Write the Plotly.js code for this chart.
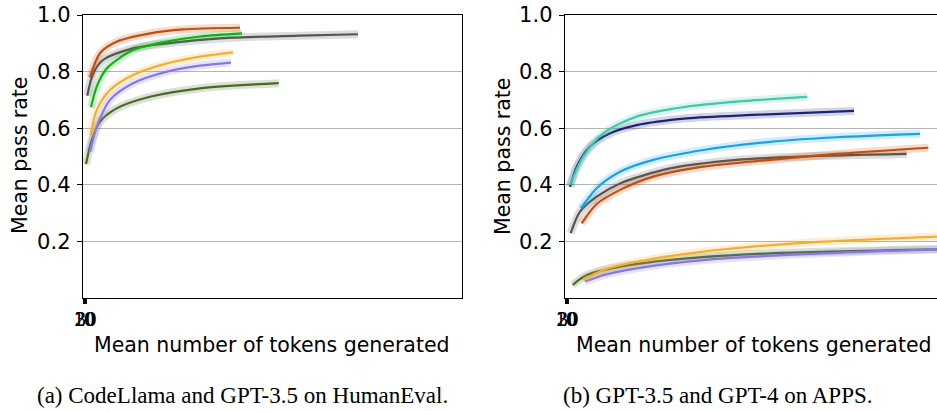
<!DOCTYPE html>
<html><head><meta charset="utf-8">
<script src="https://cdn.plot.ly/plotly-3.0.1.min.js"></script>
<style>html,body{margin:0;padding:0;background:#fff}#chart{width:937px;height:411px}</style>
</head><body><div id="chart"></div>
<script>
// ---- Panel (a): CodeLlama and GPT-3.5 on HumanEval ----
const a_red_x = [70,170,340,670,1000,1570];
const a_red_y = [0.780,0.865,0.906,0.935,0.949,0.955];
const a_gray_x = [43,103,200,500,1000,1500,2170,2750];
const a_gray_y = [0.715,0.794,0.841,0.882,0.906,0.920,0.927,0.932];
const a_green_x = [80,137,237,500,840,1170,1590];
const a_green_y = [0.674,0.747,0.811,0.876,0.906,0.924,0.935];
const a_yellow_x = [77,137,270,500,840,1170,1500];
const a_yellow_y = [0.576,0.664,0.735,0.788,0.829,0.853,0.868];
const a_purple_x = [70,137,270,500,840,1170,1480];
const a_purple_y = [0.517,0.605,0.700,0.759,0.800,0.821,0.832];
const a_olive_x = [30,87,170,337,670,1170,1957];
const a_olive_y = [0.473,0.558,0.623,0.670,0.711,0.741,0.759];

// ---- Panel (b): GPT-3.5 and GPT-4 on APPS ----
const b_teal_x = [50,183,383,717,1217,1717,2423];
const b_teal_y = [0.400,0.500,0.582,0.641,0.676,0.694,0.711];
const b_navy_x = [50,117,250,450,717,1217,1880,2890];
const b_navy_y = [0.393,0.464,0.535,0.582,0.611,0.635,0.647,0.661];
const b_blue_x = [160,317,550,883,1383,2050,2717,3550];
const b_blue_y = [0.317,0.388,0.446,0.488,0.523,0.552,0.568,0.580];
const b_gray_x = [57,150,317,550,1050,1717,2383,3417];
const b_gray_y = [0.229,0.305,0.358,0.405,0.458,0.488,0.500,0.509];
const b_red_x = [167,317,550,883,1383,2050,2717,3633];
const b_red_y = [0.264,0.332,0.382,0.429,0.464,0.488,0.509,0.531];
const b_yellow_x = [183,383,717,1383,2383,3720];
const b_yellow_y = [0.064,0.099,0.128,0.164,0.195,0.217];
const b_olive_x = [77,217,550,1217,2050,3720];
const b_olive_y = [0.046,0.081,0.111,0.140,0.158,0.172];
const b_purple_x = [200,383,717,1383,2383,3720];
const b_purple_y = [0.058,0.081,0.105,0.134,0.155,0.172];

const yTicks = [0.2,0.4,0.6,0.8,1.0];
const xTicks = [10,20,30];
const xTickText = ['10','20','30'];

const C = {red:'#c44e0c', gray:'#555555', green:'#12b012', yellow:'#f2b032',
           purple:'#8878e6', olive:'#4a6a28', teal:'#44c8aa', navy:'#1c2378', blue:'#1aa2e6'};

const traces = [];
function add(x, y, color, xa, ya){
  traces.push({x:x, y:y, xaxis:xa, yaxis:ya, mode:'lines', type:'scatter',
    line:{color:color, width:8, shape:'spline', smoothing:0.8}, opacity:0.2, hoverinfo:'skip', showlegend:false});
  traces.push({x:x, y:y, xaxis:xa, yaxis:ya, mode:'lines', type:'scatter',
    line:{color:color, width:2.2, shape:'spline', smoothing:0.8}, showlegend:false});
}
add(a_olive_x, a_olive_y, C.olive, 'x', 'y');
add(a_purple_x, a_purple_y, C.purple, 'x', 'y');
add(a_yellow_x, a_yellow_y, C.yellow, 'x', 'y');
add(a_gray_x, a_gray_y, C.gray, 'x', 'y');
add(a_green_x, a_green_y, C.green, 'x', 'y');
add(a_red_x, a_red_y, C.red, 'x', 'y');

add(b_olive_x, b_olive_y, C.olive, 'x2', 'y2');
add(b_purple_x, b_purple_y, C.purple, 'x2', 'y2');
add(b_yellow_x, b_yellow_y, C.yellow, 'x2', 'y2');
add(b_gray_x, b_gray_y, C.gray, 'x2', 'y2');
add(b_red_x, b_red_y, C.red, 'x2', 'y2');
add(b_blue_x, b_blue_y, C.blue, 'x2', 'y2');
add(b_navy_x, b_navy_y, C.navy, 'x2', 'y2');
add(b_teal_x, b_teal_y, C.teal, 'x2', 'y2');

const W = 937, H = 411;
const tickFont = {family:'DejaVu Sans', size:21, color:'#000'};
const xTickFont = {family:'Liberation Serif', size:21, color:'#000'};
function yax(anchor, mirror){
  return {anchor:anchor, domain:[1-298/H, 1-15/H], range:[0,1], tickmode:'array', tickvals:yTicks,
    tickformat:'.1f', ticks:'outside', ticklen:5, tickwidth:1, tickcolor:'#000', tickfont:tickFont,
    ticklabelstandoff:2,
    showgrid:true, gridcolor:'#b4b4b4', gridwidth:1, zeroline:false,
    showline:true, linecolor:'#000', linewidth:1.3, mirror:mirror, fixedrange:true};
}
function xax(anchor, dom, rng){
  return {anchor:anchor, domain:dom, range:rng, tickmode:'array', tickvals:xTicks, ticktext:xTickText,
    tickangle:0, ticks:'outside', ticklen:5, tickwidth:1.3, tickcolor:'#000', tickfont:xTickFont,
    ticklabelstandoff:-4,
    showgrid:false, zeroline:false, showline:true, linecolor:'#000', linewidth:1.3, mirror:true, fixedrange:true};
}
const titleFont = {family:'DejaVu Sans', size:20.5, color:'#000'};
const capFont = {family:'Liberation Serif', size:23, color:'#000'};
const layout = {
  width:W, height:H, margin:{l:0,r:0,t:0,b:0}, paper_bgcolor:'#fff', plot_bgcolor:'#fff',
  showlegend:false,
  xaxis: xax('y', [83/W, 462/W], [0,3790]),
  yaxis: yax('x', true),
  xaxis2: xax('y2', [565/W, 1], [0,3720]),
  yaxis2: yax('x2', false),
  annotations:[
    {text:'Mean pass rate', xref:'paper', yref:'paper', x:20/W, y:1-156/H, textangle:-90,
      showarrow:false, font:titleFont, xanchor:'center', yanchor:'middle'},
    {text:'Mean pass rate', xref:'paper', yref:'paper', x:503/W, y:1-156/H, textangle:-90,
      showarrow:false, font:titleFont, xanchor:'center', yanchor:'middle'},
    {text:'Mean number of tokens generated', xref:'paper', yref:'paper', x:272/W, y:1-345/H,
      showarrow:false, font:titleFont, xanchor:'center', yanchor:'middle'},
    {text:'Mean number of tokens generated', xref:'paper', yref:'paper', x:754/W, y:1-345/H,
      showarrow:false, font:titleFont, xanchor:'center', yanchor:'middle'},
    {text:'(a) CodeLlama and GPT-3.5 on HumanEval.', xref:'paper', yref:'paper', x:243/W, y:1-395/H,
      showarrow:false, font:capFont, xanchor:'center', yanchor:'middle'},
    {text:'(b) GPT-3.5 and GPT-4 on APPS.', xref:'paper', yref:'paper', x:718/W, y:1-395/H,
      showarrow:false, font:capFont, xanchor:'center', yanchor:'middle'}
  ]
};
Plotly.newPlot('chart', traces, layout, {staticPlot:true, displayModeBar:false});
</script></body></html>
